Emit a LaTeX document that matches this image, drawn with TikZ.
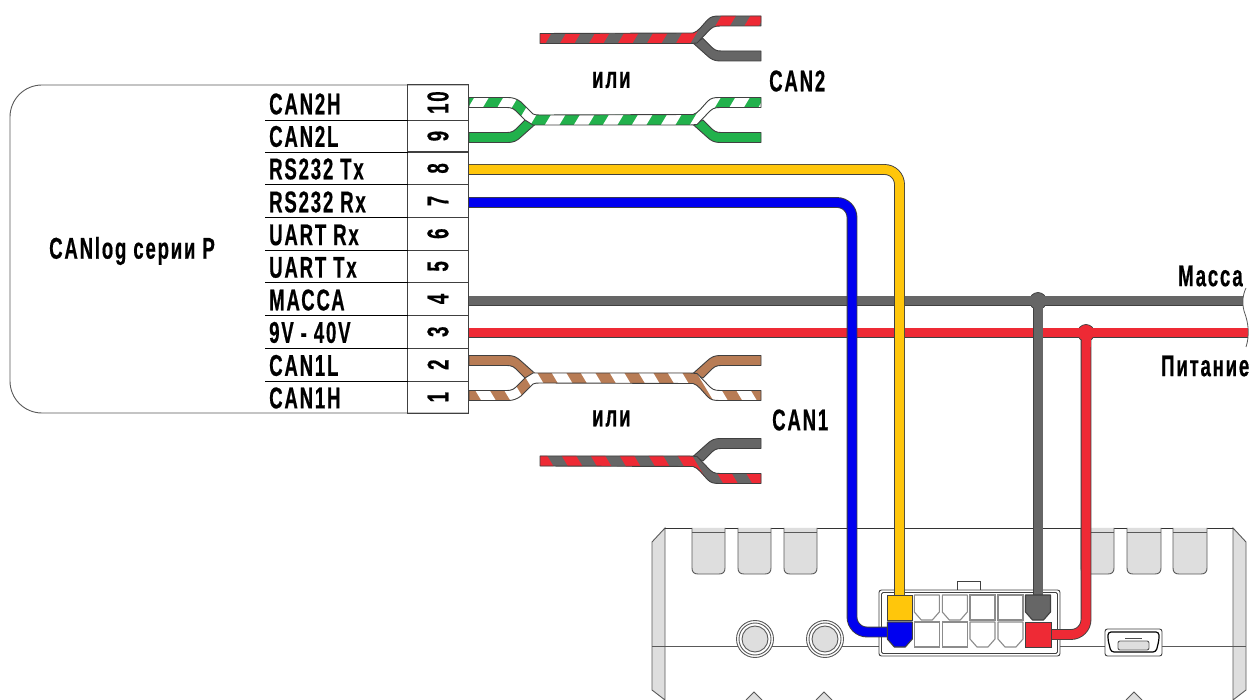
\documentclass[tikz,border=0pt]{standalone}
\usepackage{fontspec}
\setmainfont{Liberation Sans}
\newfontfamily\lbl[FakeStretch=0.62,LetterSpace=6,FakeBold=0.5]{Liberation Sans}
\definecolor{wgreen}{HTML}{22B14C}
\definecolor{wbrown}{HTML}{B87C55}
\definecolor{wred}{HTML}{EE2A35}
\definecolor{wgray}{HTML}{666666}
\definecolor{wyellow}{HTML}{FFC60B}
\definecolor{wblue}{HTML}{0000F0}
\definecolor{edge}{HTML}{404040}
\definecolor{panel}{HTML}{DEDEDE}
\tikzset{
  wire/.style={draw=edge,line width=0.9pt,double=#1,double distance=9pt,rounded corners=15pt},
  skin/.style={draw=edge,line width=0.9pt,line join=round},
  lab/.style={font=\lbl\bfseries\fontsize{30}{30}\selectfont,text=black,inner sep=0pt,anchor=west},
  pinbox/.style={draw=black!75,line width=1pt,minimum width=61pt,inner sep=0pt,font=\lbl\bfseries\fontsize{30}{30}\selectfont},
  panelshape/.style={fill=panel,draw=black!65,line width=0.9pt},
  emptycell/.style={fill=white,draw=black!45,line width=1.1pt},
  term/.style={minimum width=25pt,minimum height=25pt,inner sep=0pt},
  hair/.style={draw=black!65,line width=0.9pt}
}
% striped band inside a closed path: #1 path, #2 base, #3 stripe, #4 phase
\newcommand{\striped}[4]{%
  \begin{scope}
    \clip #1;
    \fill[#2] (-240,-40) rectangle (80,40);
    \foreach \k in {-9,...,3}{
      \pgfmathsetmacro{\xa}{\k*29+#4-7.2}
      \fill[#3] (\xa+21,-35) -- (\xa+35.5,-35) -- (\xa-6.5,35) -- (\xa-21,35) -- cycle;
    }
  \end{scope}
  \draw[skin] #1;
}
\newcommand{\lowerarm}[1]{\draw[skin,fill=#1] (0,4.5) -- (14,17) .. controls (18,21) and (22,22.5) .. (27,22.5) -- (68,22.5) -- (68,12.5) -- (28,12.5) .. controls (23,12.5) and (21,11) .. (18,8) -- (10,0) -- cycle;}
\newcommand{\grayred}[3]{% centre y, yscale, phase
  \begin{scope}[shift={(693,#1)},yscale=#2]
    \lowerarm{wgray}
    \striped{(-153,-5) -- (0,-5.5) .. controls (5,-6.5) and (9,-13) .. (15,-19) .. controls (18,-22) and (21,-22.5) .. (27,-22.5) -- (68,-22.5) -- (68,-12.5) -- (27,-12.5) .. controls (21,-12.5) and (19,-11) .. (16,-8) -- (4,4.5) -- (-3,5) -- (-153,5) -- cycle}{wgray}{wred}{#3}
  \end{scope}}
\newcommand{\twopair}[4]{% centre y, yscale, base, phase
  \begin{scope}[shift={(693,#1)},yscale=#2]
    \lowerarm{#3}
    \draw[skin,fill=#3] (-158,4.5) -- (-172,17) .. controls (-176,21) and (-180,22.5) .. (-185,22.5) -- (-224,22.5) -- (-224,12.5) -- (-186,12.5) .. controls (-181,12.5) and (-179,11) .. (-176,8) -- (-168,0) -- cycle;
    \striped{(-153,-5) -- (0,-5.5) .. controls (5,-6.5) and (9,-13) .. (15,-19) .. controls (18,-22) and (21,-22.5) .. (27,-22.5) -- (68,-22.5) -- (68,-12.5) -- (27,-12.5) .. controls (21,-12.5) and (19,-11) .. (16,-8) -- (4,4.5) -- (-3,5) -- (-153,5) -- (-160,5) -- (-168,0) -- (-176,-8) .. controls (-179,-11) and (-181,-12.5) .. (-186,-12.5) -- (-224,-12.5) -- (-224,-22.5) -- (-185,-22.5) .. controls (-180,-22.5) and (-176,-21) .. (-172,-18) -- (-160,-6) .. controls (-158,-5) and (-156,-5) .. (-153,-5) -- cycle}{#3}{white}{#4}
  \end{scope}}
\newcommand{\tab}[2]{\draw[panelshape] (#1,528) -- (#1,568) .. controls (#1,572) and (#1+2,574) .. (#1+6,574) -- (#2-6,574) .. controls (#2-2,574) and (#2,572) .. (#2,568) -- (#2,528);
  \draw[hair] (#1,532) -- (#2,532);}
\newcommand{\roundport}[1]{\draw[hair,fill=white] (#1,639) circle (18.5);
  \draw[hair,fill=white] (#1,639) circle (16);
  \draw[hair,fill=panel] (#1,639) circle (13);}
\newcommand{\chamfer}[4]{% x, y, fill, draw style colour
  \draw[#3,draw=#4,line width=1.1pt,line join=round] (#1,#2) -- (#1+25,#2) -- (#1+25,#2+17) -- (#1+18,#2+25) -- (#1+7,#2+25) -- (#1,#2+17) -- cycle;}
\begin{document}
\begin{tikzpicture}[x=1pt,y=-1pt]
\useasboundingbox[fill=white] (0,0) rectangle (1254,700);
% device
\draw[panelshape] (665,528) -- (652,542) -- (652,690) -- (665,700) -- cycle;
\draw[panelshape] (1233,528) -- (1246,542) -- (1246,690) -- (1233,700) -- cycle;
\draw[draw=black!80,line width=0.9pt] (665,528) -- (1233,528);
\tab{692}{725}\tab{738}{771}\tab{784}{817}\tab{1081}{1114}\tab{1127}{1161}\tab{1173}{1207}
\draw[hair] (652,646) -- (1246,646);
\roundport{755}\roundport{825}
\foreach \x in {754,824,1134}{\draw[panelshape] (\x-8,700) -- (\x,692) -- (\x+8,700);}
% usb
\draw[draw=black!75,fill=white,line width=0.9pt,rounded corners=2.5pt] (1105,629) rectangle (1162,656);
\draw[draw=black,line width=1.2pt,rounded corners=3pt] (1108,632) -- (1159,632) -- (1159,640) -- (1156,652) -- (1111,652) -- (1108,640) -- cycle;
\draw[hair,fill=panel,rounded corners=2pt] (1118,641) rectangle (1149,650);
\draw[black!70,line width=1pt] (1125,638) -- (1142,638);
% connector
\draw[draw=black!75,fill=white,line width=0.9pt] (957,590) -- (957,581) -- (980,581) -- (980,590);
\draw[draw=black!75,fill=white,line width=0.9pt,rounded corners=2.5pt] (879,590) rectangle (1060,656);
\draw[draw=black!75,line width=0.9pt,rounded corners=1.5pt] (881.5,592.5) rectangle (1057.5,653.5);
\foreach \x in {970,998}{\draw[emptycell] (\x,595) rectangle ++(25,25);}
\foreach \x in {914.3,942.3}{\draw[emptycell] (\x,622) rectangle ++(25,25);}
\foreach \x in {914.3,942.3}{\chamfer{\x}{595}{fill=white}{black!45}}
\foreach \x in {970,998}{\chamfer{\x}{622}{fill=white}{black!45}}
% body
\draw[draw=black!65,line width=0.9pt,rounded corners=32pt] (468,85) -- (10,85) -- (10,413) -- (468,413);
\node[pinbox,minimum height=35.3pt] (p10) at (438,102.6) {\rotatebox{90}{10}};
\node[pinbox,minimum height=31.7pt] (p9) at (438,136.1) {\rotatebox{90}{9}};
\node[pinbox,minimum height=32.7pt] (p8) at (438,168.4) {\rotatebox{90}{8}};
\node[pinbox,minimum height=32.7pt] (p7) at (438,201) {\rotatebox{90}{7}};
\node[pinbox,minimum height=32.7pt] (p6) at (438,233.7) {\rotatebox{90}{6}};
\node[pinbox,minimum height=32.7pt] (p5) at (438,266.4) {\rotatebox{90}{5}};
\node[pinbox,minimum height=32.7pt] (p4) at (438,299) {\rotatebox{90}{4}};
\node[pinbox,minimum height=32.7pt] (p3) at (438,331.7) {\rotatebox{90}{3}};
\node[pinbox,minimum height=33.3pt] (p2) at (438,364.7) {\rotatebox{90}{2}};
\node[pinbox,minimum height=31.7pt] (p1) at (438,397.2) {\rotatebox{90}{1}};
\foreach \y in {120.3,152,184.7,217.3,250,282.7,315.3,348,381.3}{\draw[black,line width=0.9pt] (265,\y) -- (408,\y);}
\node[lab] (l10) at (269,104) {CAN2H};
\node[lab] (l9) at (269,136.5) {CAN2L};
\node[lab] (l8) at (269,169) {RS232 Tx};
\node[lab] (l7) at (269,202) {RS232 Rx};
\node[lab] (l6) at (269,235) {UART Rx};
\node[lab] (l5) at (269,267.5) {UART Tx};
\node[lab] (l4) at (269,300) {МАССА};
\node[lab] (l3) at (269,332.5) {9V - 40V};
\node[lab] (l2) at (269,365.5) {CAN1L};
\node[lab] (l1) at (269,398) {CAN1H};
\node[lab] (title) at (49,251) {CANlog серии P};
\node[lab] (or1) at (592,80) {или};
\node[lab] (or2) at (592,418.5) {или};
\node[lab] (can2) at (769,81) {CAN2};
\node[lab] (can1) at (772,420) {CAN1};
\node[lab] (mass) at (1178,276) {Масса};
\node[lab] (pow) at (1161,366) {Питание};
% twisted pairs
\grayred{38.5}{1}{-7}
\twopair{120}{1}{wgreen}{7}
\twopair{378}{-1}{wbrown}{14}
\grayred{461}{-1}{-5}
% terminals (named anchors for the wires)
\node[term] (ty) at (899.5,607.5) {};
\node[term] (tb) at (899.5,634.5) {};
\node[term] (tg) at (1038,607.5) {};
\node[term] (tr) at (1038,634.5) {};
\coordinate (w8) at (469,169.5);
\coordinate (w7) at (469,202.5);
\coordinate (w4) at (469,301);
\coordinate (w3) at (469,333);
\coordinate (eg) at (1243,301);
\coordinate (er) at (1248,333);
\coordinate (jg) at (1038,301);
\coordinate (jr) at (1086,333);
\coordinate (bb) at (852,632);
% trunk wires
\draw[wire=wgray] (w4) -- (eg);
\draw[wire=wred] (w3) -- (er);
\draw[draw=black!65,line width=0.8pt] (1246,288) .. controls (1242,296) and (1242,306) .. (1245,314) .. controls (1248,322) and (1250,335) .. (1246,347);
\draw[wire=wgray] (jg) -- (tg.north);
\draw[wire=wred] (jr) |- (tr.east);
\draw[wire=wyellow] (w8) -| (ty.north);
\draw[wire=wblue] (w7) -| (bb) -- (bb -| tb.west);
% junction dots
\draw[edge,fill=wgray,line width=0.7pt] (jg) circle (8.5);
\fill[wgray] ([xshift=-14pt,yshift=-4.5pt]jg) rectangle ([xshift=14pt,yshift=4.5pt]jg);
\fill[wgray] ([xshift=-4.5pt,yshift=4.5pt]jg) rectangle ([xshift=4.5pt,yshift=-14pt]jg);
\draw[edge,fill=wred,line width=0.7pt] (jr) circle (8.5);
\fill[wred] ([xshift=-14pt,yshift=-4.5pt]jr) rectangle ([xshift=14pt,yshift=4.5pt]jr);
\fill[wred] ([xshift=-4.5pt,yshift=4.5pt]jr) rectangle ([xshift=4.5pt,yshift=-14pt]jr);
% coloured terminals
\draw[edge,fill=wyellow,line width=0.7pt] (887.3,595) rectangle (912,620);
\chamfer{887.3}{622}{fill=wblue}{edge}
\chamfer{1025.5}{595}{fill=wgray}{edge}
\draw[edge,fill=wred,line width=0.7pt] (1025.5,622) rectangle (1051,647);
\end{tikzpicture}
\end{document}
